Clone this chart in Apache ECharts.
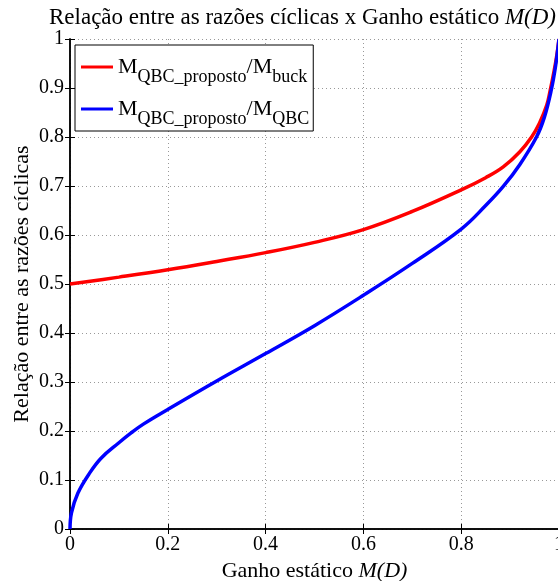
<!DOCTYPE html>
<html>
<head>
<meta charset="utf-8">
<script src="https://cdn.jsdelivr.net/npm/echarts@6/dist/echarts.min.js"></script>
<style>
  html, body { margin: 0; padding: 0; background: #fff; }
  #chart { width: 558px; height: 581px; }
</style>
</head>
<body>
<div id="chart"></div>
<script>
// valores
var redX = [0, 0.1, 0.2, 0.3, 0.4, 0.5, 0.6, 0.7, 0.8, 0.85, 0.886, 0.92, 0.944, 0.96, 0.975, 0.982, 0.99, 0.996, 1];
var redY = [0.5, 0.514, 0.529, 0.546, 0.564, 0.585, 0.611, 0.648, 0.692, 0.717, 0.739, 0.77, 0.8, 0.828, 0.865, 0.895, 0.935, 0.97, 1];
var blueX = [0, 0.003, 0.016, 0.04, 0.064, 0.1, 0.125, 0.15, 0.2, 0.3, 0.4, 0.5, 0.6, 0.7, 0.8, 0.85, 0.886, 0.92, 0.954, 0.97, 0.984, 0.993, 1];
var blueY = [0, 0.033, 0.073, 0.114, 0.145, 0.176, 0.196, 0.214, 0.244, 0.302, 0.358, 0.415, 0.477, 0.542, 0.612, 0.66, 0.699, 0.744, 0.8, 0.84, 0.895, 0.945, 1];
var seriesNames = ['buck', 'QBC'];

function pairs(xs, ys) {
  var out = [];
  for (var i = 0; i < xs.length; i++) {
    out.push([xs[i], ys[i]]);
  }
  return out;
}

var font = 'Liberation Serif';
var chart = echarts.init(document.getElementById('chart'));

var option = {
  animation: false,
  backgroundColor: '#fff',
  title: {
    text: '{n|Relação entre as razões cíclicas x Ganho estático }{i|M(D)}',
    left: 44,
    top: 1,
    textStyle: {
      rich: {
        n: { fontFamily: font, fontSize: 23, color: '#000', fontWeight: 'normal' },
        i: { fontFamily: font, fontSize: 23, color: '#000', fontWeight: 'normal', fontStyle: 'italic' }
      }
    }
  },
  legend: {
    orient: 'vertical',
    left: 75,
    top: 45,
    padding: [3, 4, 3, 6],
    itemGap: 4,
    itemWidth: 32,
    itemHeight: 3,
    icon: 'rect',
    borderColor: '#000',
    borderWidth: 1,
    backgroundColor: '#fff',
    data: seriesNames,
    formatter: function (name) {
      return '{m|M}{s|QBC_proposto}{m|/M}{s|' + name + '}';
    },
    textStyle: {
      rich: {
        m: { fontFamily: font, fontSize: 22, color: '#000', lineHeight: 32 },
        s: { fontFamily: font, fontSize: 18, color: '#000', lineHeight: 32, padding: [20, 0, 0, 0] }
      }
    }
  },
  grid: {
    left: 70,
    top: 39,
    width: 489,
    height: 490,
    containLabel: false,
    outerBoundsMode: 'none'
  },
  xAxis: [
    {
      type: 'value',
      min: 0,
      max: 1,
      interval: 0.2,
      position: 'bottom',
      name: '{n|Ganho estático }{i|M(D)}',
      nameLocation: 'middle',
      nameGap: 31,
      nameTextStyle: {
        rich: {
          n: { fontFamily: font, fontSize: 22, color: '#000' },
          i: { fontFamily: font, fontSize: 22, color: '#000', fontStyle: 'italic' }
        }
      },
      axisLine: { lineStyle: { color: '#000', width: 1.5 } },
      axisTick: { inside: true, length: 5, lineStyle: { color: '#000' } },
      axisLabel: { fontFamily: font, fontSize: 20, color: '#000', margin: 6 },
      splitLine: { show: true, lineStyle: { color: '#999', type: [1, 3] } }
    },
    {
      type: 'value',
      min: 0,
      max: 1,
      interval: 0.2,
      position: 'top',
      axisLine: { lineStyle: { color: '#000', width: 1.5 } },
      axisTick: { inside: true, length: 5, lineStyle: { color: '#000' } },
      axisLabel: { show: false },
      splitLine: { show: false }
    }
  ],
  yAxis: [
    {
      type: 'value',
      min: 0,
      max: 1,
      interval: 0.1,
      position: 'left',
      name: 'Relação entre as razões cíclicas',
      nameLocation: 'middle',
      nameGap: 37,
      nameMoveOverlap: false,
      nameTextStyle: { fontFamily: font, fontSize: 22, color: '#000' },
      axisLine: { lineStyle: { color: '#000', width: 1.5 } },
      axisTick: { inside: true, length: 5, lineStyle: { color: '#000' } },
      axisLabel: { fontFamily: font, fontSize: 20, color: '#000', margin: 6 },
      splitLine: { show: true, lineStyle: { color: '#999', type: [1, 3] } }
    },
    {
      type: 'value',
      min: 0,
      max: 1,
      interval: 0.1,
      position: 'right',
      axisLine: { lineStyle: { color: '#000', width: 1.5 } },
      axisTick: { inside: true, length: 5, lineStyle: { color: '#000' } },
      axisLabel: { show: false },
      splitLine: { show: false }
    }
  ],
  series: [
    {
      name: 'buck',
      type: 'line',
      data: pairs(redX, redY),
      smooth: 0.4,
      symbol: 'none',
      color: '#ff0000',
      lineStyle: { width: 3.5, color: '#ff0000' }
    },
    {
      name: 'QBC',
      type: 'line',
      data: pairs(blueX, blueY),
      smooth: 0.4,
      symbol: 'none',
      color: '#0000ff',
      lineStyle: { width: 3.5, color: '#0000ff' }
    }
  ]
};

chart.setOption(option);
</script>
</body>
</html>
